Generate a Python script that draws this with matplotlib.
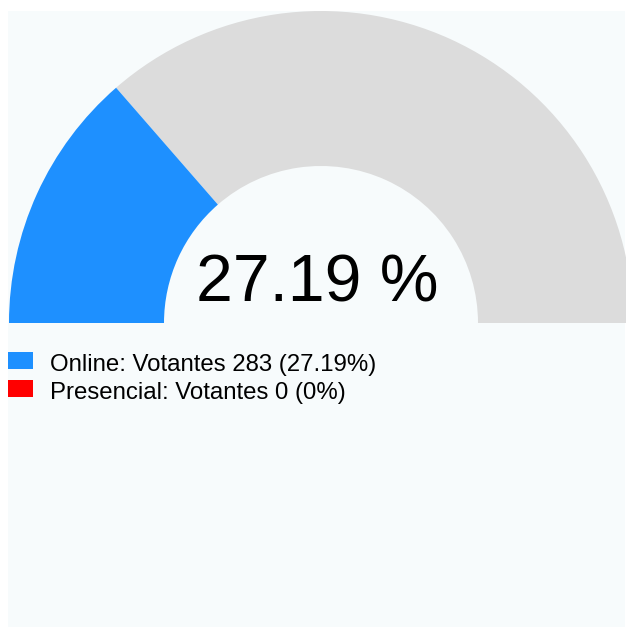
import matplotlib.pyplot as plt
from matplotlib.patches import Wedge, Rectangle

plt.rcParams["font.family"] = ["Liberation Sans", "DejaVu Sans"]

# data
labels = ["Online", "Presencial"]
votantes = [283, 0]
percents = [27.19, 0]
colors = ["#1e90ff", "#ff0000"]
gauge_value = 27.19

W, H = 626, 631
fig = plt.figure(figsize=(W / 100, H / 100), dpi=100)
ax = fig.add_axes([0, 0, 1, 1])
ax.set_xlim(0, W)
ax.set_ylim(0, H)
ax.axis("off")

# panel background
ax.add_patch(Rectangle((8, H - 627), 617, 616, color="#f7fbfc", lw=0))

# gauge
cx, cy = 321, H - 323
r_out, r_in = 312, 157
split = 180 - gauge_value / 100 * 180
ax.add_patch(Wedge((cx, cy), r_out, 0, split, width=r_out - r_in,
                   color="#dcdcdc", lw=0))
ax.add_patch(Wedge((cx, cy), r_out, split, 180, width=r_out - r_in,
                   color=colors[0], lw=0))
ax.text(cx - 4, H - 301, f"{gauge_value:.2f} %", fontsize=47.5,
        ha="center", va="baseline", color="black")

# legend
for i, (lab, v, p, c) in enumerate(zip(labels, votantes, percents, colors)):
    top = H - 352 - i * 28
    ax.add_patch(Rectangle((8, top - 17), 25, 17, color=c, lw=0))
    ax.text(50, H - 371 - i * 28, f"{lab}: Votantes {v} ({p:g}%)",
            fontsize=17.3, ha="left", va="baseline", color="black")

fig.savefig("out.png", dpi=100)
